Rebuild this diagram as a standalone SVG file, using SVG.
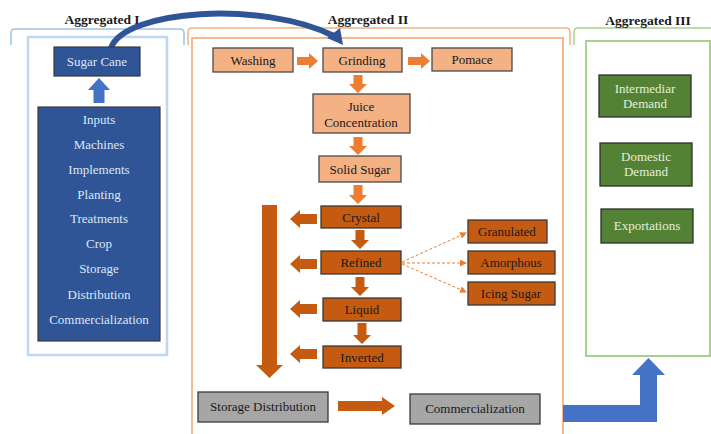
<svg xmlns="http://www.w3.org/2000/svg" width="711" height="434" viewBox="0 0 711 434">
<defs>
<style>
text{font-family:"Liberation Serif","Times New Roman",serif;font-size:13px;text-anchor:middle}
.h{font-weight:bold;fill:#1a1a1a;font-size:13.5px}
.lt{fill:#DCE6F4}
.dk{fill:#1a1a1a}
.gt{fill:#E4EEDC}
.blue{fill:#2F5597;stroke:#3a3a3a;stroke-width:1.2}
.lo{fill:#F4B183;stroke:#4a4a4a;stroke-width:1.3}
.do{fill:#C55A11;stroke:#3a3a3a;stroke-width:1.3}
.gr{fill:#A6A6A6;stroke:#3a3a3a;stroke-width:1.3}
.gn{fill:#548235;stroke:#2e2e2e;stroke-width:1.3}
.aro{fill:#ED7D31}
.ard{fill:#C55A11}
.arb{fill:#4472C4}
.dash{stroke:#ED7D31;stroke-width:1;stroke-dasharray:3 2;fill:none}
</style>
<marker id="ah" markerWidth="7" markerHeight="7" refX="6" refY="3.5" orient="auto" markerUnits="userSpaceOnUse">
<path d="M0 0 L7 3.5 L0 7 Z" fill="#ED7D31"/>
</marker>
</defs>
<rect width="711" height="434" fill="#ffffff"/>

<g id="frames">
<path d="M11 45 V33 Q11 29 15 29 H180 Q184 29 184 33 V45" fill="none" stroke="#9DC3E6" stroke-width="1.5"/>
<path d="M188 45 V32 Q188 28 192 28 H566 Q570 28 570 32 V45" fill="none" stroke="#F4B183" stroke-width="1.5"/>
<path d="M574 45 V32 Q574 28 578 28 H711" fill="none" stroke="#A9D18E" stroke-width="1.5"/>
<rect x="28" y="37" width="139" height="318" fill="none" stroke="#BDD7EE" stroke-width="2.5"/>
<rect x="192" y="38" width="371" height="420" fill="none" stroke="#F4B183" stroke-width="1.8"/>
<rect x="586" y="41" width="124" height="315" fill="none" stroke="#A9D18E" stroke-width="2"/>
<text class="h" x="102" y="24">Aggregated I</text>
<text class="h" x="368" y="24">Aggregated II</text>
<text class="h" x="648" y="25">Aggregated III</text>
</g>

<g id="connectors">
<path d="M111 48 C124 10 262 0 334 36" fill="none" stroke="#2F5597" stroke-width="6"/>
<path d="M327 38 L343 45 L340 28 Z" fill="#2F5597"/>
<path class="arb" d="M93.5 103 V90 H88 L99 78 L110 90 H104.5 V103 Z"/>
<path class="aro" d="M297 57 H309 V53 L318 61 L309 69 V65 H297 Z"/>
<path class="aro" d="M408 57 H421 V53 L430 61 L421 69 V65 H408 Z"/>
<path class="aro" d="M353.5 75 V84 H349 L358 93 L367 84 H362.5 V75 Z"/>
<path class="aro" d="M353.5 137 V146 H349 L358 155 L367 146 H362.5 V137 Z"/>
<path class="aro" d="M353.5 185 V195 H349 L358 204 L367 195 H362.5 V185 Z"/>
<path class="ard" d="M355.5 230 V240 H351 L360 249 L369 240 H364.5 V230 Z"/>
<path class="ard" d="M355.5 277 V287 H351 L360 296 L369 287 H364.5 V277 Z"/>
<path class="ard" d="M357.5 323 V335 H353 L362 344 L371 335 H366.5 V323 Z"/>
<path class="ard" d="M317 214 H300 V210 L290 219 L300 228 V224 H317 Z"/>
<path class="ard" d="M317 259 H300 V255 L290 264 L300 273 V269 H317 Z"/>
<path class="ard" d="M317 304 H300 V300 L290 309 L300 318 V314 H317 Z"/>
<path class="ard" d="M317 349 H300 V345 L290 354 L300 363 V359 H317 Z"/>
<path class="ard" d="M262 205 V365 H256 L269.5 378 L283 365 H277 V205 Z"/>
<path class="ard" d="M338 401 H382 V397 L395 406 L382 415 V411 H338 Z"/>
<path class="arb" d="M563 405 H640 V375 H632 L648.5 358 L665 375 H657 V422 H563 Z"/>
<line class="dash" x1="402" y1="262" x2="466" y2="233" marker-end="url(#ah)"/>
<line class="dash" x1="402" y1="263" x2="466" y2="263" marker-end="url(#ah)"/>
<line class="dash" x1="402" y1="264" x2="466" y2="292" marker-end="url(#ah)"/>
</g>

<g id="sugar-cane"><rect class="blue" x="54" y="47" width="86" height="29"/><text class="lt" x="97" y="66">Sugar Cane</text></g>
<g id="inputs"><rect class="blue" x="38" y="107" width="122" height="234"/>
<text class="lt" x="99" y="124">Inputs</text>
<text class="lt" x="99" y="149">Machines</text>
<text class="lt" x="99" y="174">Implements</text>
<text class="lt" x="99" y="199">Planting</text>
<text class="lt" x="99" y="223">Treatments</text>
<text class="lt" x="99" y="248">Crop</text>
<text class="lt" x="99" y="273">Storage</text>
<text class="lt" x="99" y="299">Distribution</text>
<text class="lt" x="99" y="324">Commercialization</text>
</g>

<g id="washing"><rect class="lo" x="213" y="48" width="80" height="24"/><text class="dk" x="253" y="64.5">Washing</text></g>
<g id="grinding"><rect class="lo" x="323" y="48" width="79" height="24"/><text class="dk" x="362" y="64.5">Grinding</text></g>
<g id="pomace"><rect class="lo" x="432" y="48" width="80" height="23"/><text class="dk" x="472" y="64">Pomace</text></g>
<g id="juice"><rect class="lo" x="313" y="94" width="97" height="39"/><text class="dk" x="361" y="111">Juice</text><text class="dk" x="361" y="127">Concentration</text></g>
<g id="solid-sugar"><rect class="lo" x="319" y="156" width="82" height="26"/><text class="dk" x="360" y="173.5">Solid Sugar</text></g>
<g id="crystal"><rect class="do" x="321" y="206" width="80" height="22"/><text class="dk" x="361" y="221.5">Crystal</text></g>
<g id="refined"><rect class="do" x="321" y="251" width="80" height="23"/><text class="dk" x="361" y="267">Refined</text></g>
<g id="liquid"><rect class="do" x="323" y="298" width="78" height="23"/><text class="dk" x="362" y="314">Liquid</text></g>
<g id="inverted"><rect class="do" x="323" y="346" width="78" height="22"/><text class="dk" x="362" y="361.5">Inverted</text></g>
<g id="granulated"><rect class="do" x="468" y="220" width="79" height="23"/><text class="dk" x="507" y="236">Granulated</text></g>
<g id="amorphous"><rect class="do" x="468" y="251" width="87" height="23"/><text class="dk" x="511" y="267">Amorphous</text></g>
<g id="icing-sugar"><rect class="do" x="468" y="282" width="87" height="23"/><text class="dk" x="511" y="298">Icing Sugar</text></g>
<g id="storage-distribution"><rect class="gr" x="198" y="392" width="130" height="30"/><text class="dk" x="263" y="411">Storage Distribution</text></g>
<g id="commercialization"><rect class="gr" x="410" y="394" width="130" height="30"/><text class="dk" x="475" y="413">Commercialization</text></g>
<g id="intermediar-demand"><rect class="gn" x="599" y="75" width="92" height="42"/><text class="gt" x="645" y="93">Intermediar</text><text class="gt" x="645" y="108">Demand</text></g>
<g id="domestic-demand"><rect class="gn" x="600" y="143" width="92" height="43"/><text class="gt" x="646" y="161">Domestic</text><text class="gt" x="646" y="176">Demand</text></g>
<g id="exportations"><rect class="gn" x="601" y="209" width="92" height="34"/><text class="gt" x="647" y="230">Exportations</text></g>
</svg>
